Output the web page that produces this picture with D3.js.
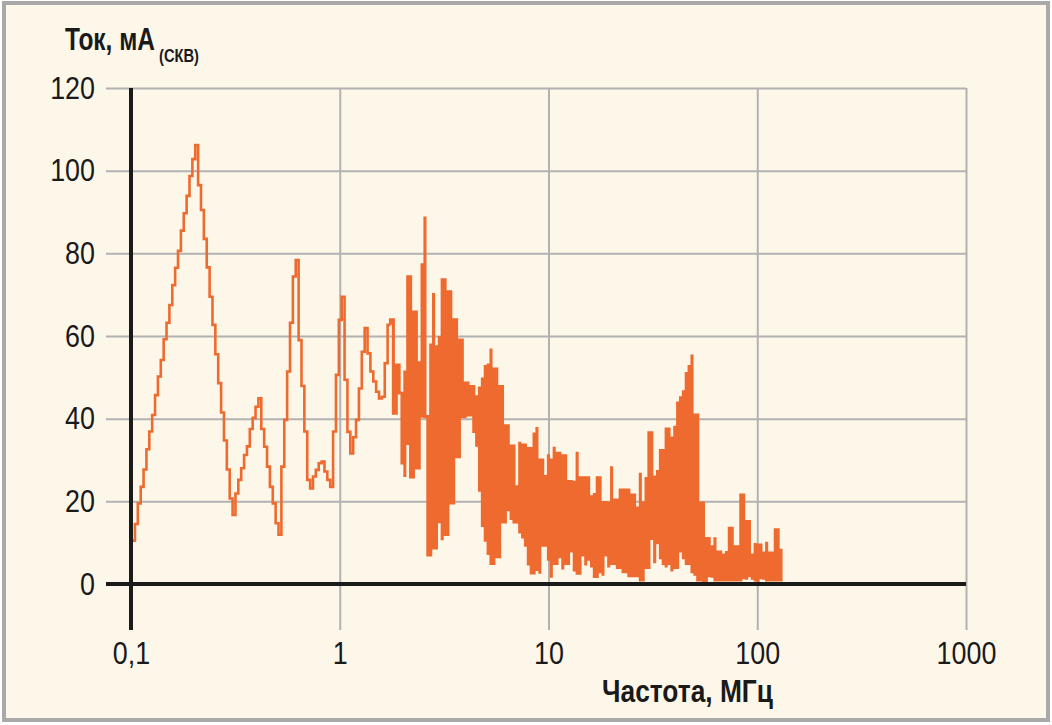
<!DOCTYPE html>
<html><head><meta charset="utf-8">
<script src="https://cdn.jsdelivr.net/npm/d3@7"></script>
<style>
html,body{margin:0;padding:0;background:#fff;}
svg{display:block;}
text{font-family:"Liberation Sans",Arial,Helvetica,sans-serif;fill:#1a1a1a;}
</style></head><body>
<svg id="chart" width="1052" height="725"></svg>
<script>
// ---- data ----
const xTicks = [0.1, 1, 10, 100, 1000];
const xTickLabels = ["0,1", "1", "10", "100", "1000"];
const yTicks = [0, 20, 40, 60, 80, 100, 120];
const yTickLabels = ["0", "20", "40", "60", "80", "100", "120"];
const titleY = "Ток, мА";
const titleYSub = "(СКВ)";
const titleX = "Частота, МГц";

// logarithmic analyser sweep (frequency of sweep point k, MHz)
const sweepStartMHz = 0.1012;
const pointsPerDecade = 72.7;

// sweep points 0..89: single reading per point (mA rms)
const stairLevels = [
  10.5, 14.5, 19.5, 23.5, 27.7, 32.6, 36.9, 40.9, 45.7, 50.2,
  54.2, 59.2, 63.2, 67.5, 72.3, 76.5, 80.6, 85.5, 89.7, 93.9,
  98.7, 102.8, 106.2, 96.5, 90.5, 83.5, 76.6, 69.5, 62.7, 55.6,
  48.6, 41.5, 34.7, 27.7, 20.7, 16.7, 21.9, 25.2, 28.0, 31.2,
  33.3, 37.5, 40.2, 42.9, 44.9, 37.5, 33.2, 28.4, 23.5, 19.5,
  14.7, 11.9, 28.4, 39.7, 51.4, 63.2, 74.4, 78.4, 59.0, 47.9,
  36.9, 25.2, 23.1, 26.0, 27.6, 29.2, 29.6, 27.2, 25.2, 23.5,
  36.9, 50.6, 63.9, 69.5, 49.4, 36.8, 31.6, 35.5, 39.7, 47.3,
  56.2, 61.9, 55.8, 51.4, 49.0, 46.5, 44.9, 45.3, 53.4, 62.7
];

// sweep points 90..226: max / min reading within each point (mA rms)
const bandHigh = [
  63.9, 63.0, 53.0, 52.7, 46.5, 51.3, 74.3, 65.8, 65.8, 53.4,
  53.5, 77.2, 88.9, 40.5, 57.8, 70.4, 57.4, 60.0, 73.6, 73.6,
  70.7, 70.7, 63.9, 63.1, 59.0, 56.6, 48.6, 47.0, 47.8, 41.4,
  45.3, 47.8, 49.6, 53.0, 53.0, 57.0, 52.0, 50.2, 47.8, 46.3,
  38.3, 37.5, 33.4, 22.0, 23.5, 34.4, 33.6, 31.6, 32.8, 32.8,
  36.3, 38.0, 30.0, 24.7, 26.0, 31.4, 30.0, 33.2, 31.6, 30.2,
  31.0, 30.5, 24.8, 23.4, 24.6, 32.0, 25.7, 25.7, 25.7, 21.1,
  21.1, 22.0, 25.7, 21.3, 19.7, 19.6, 19.6, 28.5, 20.3, 20.3,
  22.7, 21.5, 22.7, 21.5, 21.5, 21.5, 18.4, 26.9, 19.6, 25.9,
  36.6, 27.7, 25.9, 27.6, 32.3, 28.6, 37.5, 30.5, 35.3, 38.3,
  43.8, 45.4, 46.5, 51.3, 52.6, 55.5, 40.9, 31.7, 19.6, 10.6,
  11.0, 11.3, 9.0, 11.3, 7.7, 6.3, 7.0, 8.0, 13.5, 9.4,
  9.0, 6.0, 21.5, 6.3, 15.1, 11.0, 7.0, 9.9, 9.4, 7.5,
  7.5, 10.2, 7.5, 7.5, 13.1, 10.2, 8.5
];
const bandLow = [
  62.7, 41.3, 41.3, 46.2, 29.3, 25.9, 33.6, 25.9, 48.9, 28.1,
  31.6, 40.2, 40.5, 7.0, 21.1, 8.7, 10.6, 15.1, 10.6, 12.0,
  14.7, 19.6, 30.8, 30.8, 33.6, 40.5, 40.5, 40.9, 40.9, 36.9,
  33.2, 22.7, 13.8, 10.6, 7.0, 5.0, 5.0, 6.6, 10.0, 15.0,
  16.0, 18.0, 15.5, 15.0, 17.0, 12.6, 11.0, 9.4, 4.5, 2.7,
  11.5, 3.5, 2.5, 9.4, 9.4, 6.0, 1.5, 5.0, 7.0, 6.6,
  3.5, 5.0, 10.0, 8.0, 3.0, 2.6, 5.0, 7.0, 4.5, 6.0,
  4.0, 1.8, 6.0, 3.0, 2.0, 7.0, 4.0, 5.0, 7.0, 4.0,
  6.0, 3.0, 4.0, 2.0, 5.0, 2.0, 4.0, 1.0, 2.0, 4.0,
  6.0, 11.0, 5.0, 10.0, 6.0, 5.0, 4.0, 5.0, 3.0, 4.0,
  6.0, 8.0, 6.0, 5.0, 5.0, 3.0, 2.0, 1.0, 0.6, 0.5,
  1.0, 2.0, 1.5, 1.0, 2.0, 1.0, 1.5, 1.0, 2.0, 1.0,
  4.0, 1.0, 1.0, 1.5, 1.0, 2.0, 1.0, 1.0, 0.5, 1.5,
  1.0, 1.0, 1.5, 1.0, 1.0, 1.0, 1.0
];

// ---- drawing ----
const svg = d3.select("#chart");
const orange = "#ee6a2e";
const grid = "#b2b2b2";
const ink = "#1a1a1a";
const FONT = '"Liberation Sans",Arial,Helvetica,sans-serif';

// condense tick labels horizontally (the reference uses a condensed face)
function condense(sel, factor) {
  sel.each(function () {
    const L = this.getComputedTextLength();
    d3.select(this).attr("textLength", L * factor).attr("lengthAdjust", "spacingAndGlyphs");
  });
}
// place a text at (x0, y0) squeezed horizontally to a given width
function squeezeTo(sel, x0, y0, width) {
  const L = sel.node().getComputedTextLength();
  sel.attr("x", 0).attr("y", 0)
    .attr("transform", `translate(${x0},${y0}) scale(${width / L},1)`);
}

svg.append("rect").attr("x", 4).attr("y", 3).attr("width", 1044).attr("height", 717)
  .attr("fill", "#fdf7ea").attr("stroke", "#a9a9a9").attr("stroke-width", 4);

const x = d3.scaleLog().domain([0.1, 1000]).range([131, 966]);
const y = d3.scaleLinear().domain([0, 120]).range([584, 88]);
const freqAt = k => sweepStartMHz * Math.pow(10, k / pointsPerDecade);

// horizontal gridlines + y labels
const yAxis = d3.axisLeft(y).tickValues(yTicks)
  .tickFormat((d, i) => yTickLabels[i]).tickSize(-(966 - 106)).tickPadding(11);
const gy = svg.append("g").attr("transform", "translate(106,0)").call(yAxis);
gy.select(".domain").remove();
gy.selectAll(".tick line").attr("stroke", grid).attr("stroke-width", 2);
gy.selectAll(".tick text").attr("font-size", 32).attr("fill", ink).style("font-family", FONT);
condense(gy.selectAll(".tick text"), 0.84);

// vertical gridlines + x labels
const xAxis = d3.axisBottom(x).tickValues(xTicks)
  .tickFormat((d, i) => xTickLabels[i]).tickSize(-(630 - 88)).tickPadding(11);
const gx = svg.append("g").attr("transform", "translate(0,630)").call(xAxis);
gx.select(".domain").remove();
gx.selectAll(".tick line").attr("stroke", grid).attr("stroke-width", 2);
gx.selectAll(".tick text").attr("font-size", 32).attr("fill", ink).style("font-family", FONT);
condense(gx.selectAll(".tick text"), 0.84);

// staircase part
const stairPts = stairLevels.map((v, k) => [x(freqAt(k)), y(v)]);
stairPts.push([x(freqAt(stairLevels.length)), y(stairLevels[stairLevels.length - 1])]);
svg.append("path")
  .attr("d", d3.line().curve(d3.curveStepAfter)(stairPts))
  .attr("fill", "none").attr("stroke", orange).attr("stroke-width", 2.6);

// dense band part
const bandStart = stairLevels.length;
let prev = stairLevels[stairLevels.length - 1];
const bandPts = [];
bandHigh.forEach((hi, i) => {
  const lo = bandLow[i];
  const xk = x(freqAt(bandStart + i));
  bandPts.push([xk, y(prev)]);
  const near = Math.abs(hi - prev) < Math.abs(lo - prev) ? hi : lo;
  const far = near === hi ? lo : hi;
  bandPts.push([xk, y(near)]);
  bandPts.push([xk, y(far)]);
  prev = far;
});
svg.append("path")
  .attr("d", d3.line()(bandPts))
  .attr("fill", "none").attr("stroke", orange).attr("stroke-width", 3.1)
  .attr("stroke-linejoin", "miter").attr("stroke-miterlimit", 2);

// black axes
svg.append("line").attr("x1", x(0.1)).attr("x2", x(0.1)).attr("y1", y(120)).attr("y2", 630)
  .attr("stroke", ink).attr("stroke-width", 4);
svg.append("line").attr("x1", 106).attr("x2", x(1000)).attr("y1", y(0)).attr("y2", y(0))
  .attr("stroke", ink).attr("stroke-width", 4);

// titles
const t1 = svg.append("text").attr("font-size", 32).attr("font-weight", "bold").text(titleY);
squeezeTo(t1, 65, 50, 90);
const t2 = svg.append("text").attr("font-size", 18).attr("font-weight", "bold").text(titleYSub);
squeezeTo(t2, 159, 62, 40);
const t3 = svg.append("text").attr("font-size", 32).attr("font-weight", "bold").text(titleX);
squeezeTo(t3, 602, 702, 171);
</script>
</body></html>
